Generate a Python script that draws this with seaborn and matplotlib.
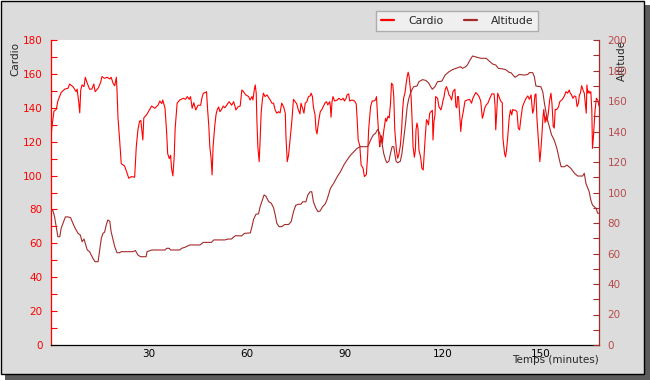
import matplotlib
matplotlib.use('Agg')
import matplotlib.pyplot as plt
import seaborn as sns
from matplotlib.patches import Rectangle
from matplotlib.ticker import FixedLocator, MultipleLocator

# Temps (minutes) / fréquence cardiaque
cardio_t = [0.0, 0.3, 0.9, 1.6, 2.1, 3.1, 4.2, 5.2, 5.7, 6.7,
            7.7, 8.0, 8.5, 8.8, 9.1, 9.5, 10.1, 10.5, 11.1, 11.8,
            12.5, 13.1, 13.5, 14.4, 15.2, 15.6, 16.4, 17.2, 18.0, 18.4,
            19.0, 19.5, 20.0, 20.2, 20.5, 21.0, 21.5, 22.5, 23.0, 23.8,
            24.6, 25.6, 26.1, 26.6, 27.1, 27.5, 28.1, 28.4, 29.3, 29.8,
            30.8, 31.8, 32.8, 33.3, 33.9, 34.2, 34.9, 35.4, 35.7, 36.2,
            36.6, 36.9, 37.3, 37.7, 38.0, 38.6, 39.4, 40.5, 41.2, 41.7,
            42.3, 42.7, 43.2, 43.7, 44.3, 45.0, 45.8, 46.1, 46.6, 47.3,
            47.6, 47.9, 48.3, 48.6, 49.0, 49.3, 49.6, 50.1, 50.5, 50.9,
            51.3, 51.7, 52.2, 52.7, 53.2, 53.9, 54.5, 55.3, 55.9, 56.6,
            57.2, 57.9, 58.4, 58.9, 59.6, 60.5, 60.9, 61.5, 61.8, 62.2,
            62.5, 62.8, 63.0, 63.3, 63.7, 64.0, 64.3, 64.7, 65.0, 65.5,
            66.1, 66.6, 67.1, 67.6, 68.1, 68.6, 69.1, 69.6, 70.1, 70.6,
            71.2, 71.7, 71.9, 72.3, 72.7, 73.2, 73.7, 74.2, 74.7, 75.2,
            75.7, 76.2, 76.5, 77.0, 77.4, 77.8, 78.3, 78.8, 79.3, 79.6,
            80.0, 80.3, 80.8, 81.1, 81.4, 81.9, 82.4, 82.9, 83.4, 83.9,
            84.3, 84.7, 85.3, 85.5, 85.7, 86.0, 86.3, 86.8, 87.6, 88.1,
            88.8, 89.4, 89.8, 90.3, 90.6, 91.1, 91.4, 92.1, 92.9, 93.4,
            93.7, 94.0, 94.5, 94.9, 95.5, 95.9, 96.5, 96.9, 97.2, 97.8,
            98.3, 98.8, 99.3, 99.6, 100.0, 100.3, 100.6, 100.8, 101.1, 101.4,
            101.8, 102.4, 102.7, 103.1, 103.5, 103.9, 104.2, 104.6, 104.9, 105.2,
            105.7, 106.1, 106.5, 106.9, 107.3, 107.6, 107.9, 108.3, 108.7, 109.0,
            109.3, 109.6, 109.8, 110.2, 110.5, 110.8, 111.2, 111.5, 111.7, 112.0,
            112.3, 112.6, 113.1, 113.5, 113.9, 114.2, 114.5, 114.9, 115.2, 115.5,
            115.9, 116.2, 116.7, 116.9, 117.2, 117.5, 117.7, 118.3, 118.7, 119.3,
            119.6, 120.0, 120.3, 120.6, 121.0, 121.4, 121.8, 122.2, 122.6, 123.0,
            123.6, 123.9, 124.2, 124.4, 124.7, 125.1, 125.4, 125.7, 126.1, 126.4,
            126.7, 127.4, 128.1, 128.7, 129.1, 129.6, 130.0, 130.5, 131.0, 131.5,
            132.0, 132.3, 132.7, 133.2, 133.7, 134.3, 134.9, 135.6, 135.9, 136.1,
            136.4, 136.7, 137.1, 137.6, 138.1, 138.3, 138.8, 139.1, 139.4, 139.8,
            140.2, 140.6, 141.0, 141.3, 141.6, 142.0, 142.6, 143.0, 143.4, 143.8,
            144.3, 144.9, 145.4, 145.9, 146.4, 146.9, 147.4, 147.7, 148.1, 148.4,
            148.7, 149.1, 149.4, 149.6, 149.9, 150.2, 150.5, 150.8, 151.2, 151.5,
            151.8, 152.2, 152.6, 153.0, 153.3, 153.7, 154.0, 154.3, 154.8, 155.3,
            155.7, 156.3, 156.7, 157.1, 157.6, 158.1, 158.6, 158.9, 159.3, 159.7,
            160.2, 160.6, 161.0, 161.4, 161.7, 162.0, 162.4, 162.8, 163.2, 163.5,
            163.8, 164.0, 164.3, 164.6, 164.9, 165.2, 165.5, 165.7, 166.0, 166.5,
            166.9, 167.3, 167.7]
cardio_bpm = [122, 129, 138, 139, 144, 149, 151, 151.5, 154, 152.5,
              149.5, 151, 143, 137, 150.5, 153.5, 152.5, 158, 154.5, 151,
              151, 154, 149.5, 151.5, 155, 158.4, 157.4, 158, 157, 158,
              154.5, 153, 158, 150.5, 134, 121, 107, 105.7, 103, 98.4,
              99.4, 99, 117, 127, 132, 132.5, 121, 134, 136, 137.7,
              141, 139.7, 141.7, 144, 142.5, 144.6, 139.7, 125, 113, 110,
              112, 104, 99.8, 111, 128, 142.7, 144.6, 145.6, 145, 146.6,
              145, 146.6, 139.7, 143, 138.7, 141.5, 141.5, 145, 148.6, 149,
              149.5, 139.7, 129, 117, 110, 100.4, 117, 129, 136, 139,
              140.5, 137.7, 139, 141, 140, 142, 143.6, 141.5, 143.6, 138.7,
              140.5, 141, 150.5, 149.5, 147.6, 146.6, 144.6, 146.6, 144.6, 150.5,
              153.5, 148.6, 133, 117, 108.2, 121, 136.8, 145, 148.6, 146.6,
              147.6, 146, 144.6, 142.7, 142.7, 138.7, 136.8, 137.7, 137, 142.7,
              140.5, 136.8, 123, 108.2, 112, 122, 132, 145, 143.6, 142.3,
              138.7, 136.4, 142.7, 139.7, 136.8, 142.7, 143.6, 146.6, 147, 148.6,
              146.6, 140.5, 135.8, 127, 124.6, 132, 137.7, 139, 141, 143,
              143.6, 141.7, 143.6, 140.5, 134.4, 143.6, 146.6, 144, 144.6, 145.6,
              144.6, 145.6, 144, 145.6, 147.6, 148.2, 144, 144.6, 144, 142.3,
              133, 121, 117.6, 106.3, 104.3, 99.4, 100.5, 112, 127, 140.7,
              144, 144, 144.6, 146.6, 133, 124, 117, 120, 123.5, 119,
              126, 133.8, 132, 135, 134, 142.7, 154.5, 153.5, 146.6, 127,
              115, 110.2, 113, 117.6, 127, 138.7, 145.6, 148.6, 154.5, 158.4,
              161, 158.4, 154.5, 146.6, 133, 117, 110.8, 115, 127, 131,
              128, 115, 111, 104.3, 103.3, 113, 122, 133, 132, 129.9,
              136.8, 137.5, 138.5, 121, 132, 135.5, 146.6, 145.6, 140.7, 138.7,
              140.7, 144.6, 146.6, 150.5, 152.5, 150.5, 147.6, 146.6, 144.6, 149.5,
              151, 140.7, 140, 146.6, 146.6, 134.8, 126, 133, 137, 140.7,
              144, 144.6, 145, 142.7, 145.6, 147.6, 149, 148, 146.6, 144,
              133.8, 135.7, 139.7, 141.7, 142.7, 145.6, 148.2, 148.2, 140.7, 127,
              137, 148.6, 146.6, 144, 143, 122, 113, 111, 115, 123.5,
              133.8, 138.7, 135.8, 139, 138.5, 138.7, 137.7, 128, 127, 133.8,
              140.7, 143.6, 145.6, 147, 145, 147.6, 136.8, 138.7, 147.6, 148.2,
              133.8, 123, 114, 108.2, 115, 123, 133, 139, 131.2, 135,
              132, 137, 144.6, 148.6, 142.7, 129, 128, 139, 139, 140.5,
              143.6, 144.6, 145.6, 147, 149.5, 148.6, 150.5, 148.6, 147.6, 145.6,
              147, 146.6, 140.7, 142.7, 147.6, 148.6, 153, 150.5, 148.6, 142.7,
              136.8, 153.5, 148.6, 150, 148.6, 149.5, 138.7, 116, 123, 138.7,
              145.6, 144.6, 141]

# Altitude (m)
alt_t = [0.0, 0.6, 1.1, 1.6, 2.1, 2.7, 3.1, 3.7, 4.4, 5.2,
         6.0, 6.7, 7.4, 8.3, 9.0, 9.5, 10.1, 10.5, 11.1, 11.8,
         12.3, 12.8, 13.5, 14.4, 14.9, 15.4, 15.9, 16.4, 16.9, 17.4,
         18.0, 18.4, 19.0, 19.5, 20.2, 21.0, 21.5, 23.5, 25.1, 25.8,
         26.6, 27.4, 29.1, 29.4, 30.8, 34.9, 35.4, 36.2, 36.6, 39.4,
         40.0, 41.0, 42.5, 45.6, 46.6, 49.1, 49.8, 53.2, 54.2, 55.3,
         55.7, 56.5, 58.3, 59.2, 61.0, 61.5, 62.0, 62.7, 63.5, 64.0,
         64.5, 65.2, 65.8, 66.6, 67.4, 68.1, 68.6, 69.1, 69.8, 70.6,
         71.5, 72.7, 73.5, 74.2, 74.9, 75.7, 76.5, 77.0, 78.0, 78.6,
         79.3, 79.8, 80.3, 81.0, 81.7, 82.4, 83.1, 83.9, 84.5, 85.5,
         86.5, 87.6, 88.6, 89.6, 90.6, 91.7, 92.7, 93.7, 94.7, 96.2,
         96.9, 97.2, 97.8, 98.6, 99.3, 100.0, 100.6, 101.3, 101.8, 102.4,
         102.8, 103.4, 103.9, 104.4, 104.9, 105.2, 105.6, 106.1, 106.9, 107.4,
         107.9, 108.5, 109.0, 109.5, 110.0, 110.5, 111.0, 112.0, 112.6, 113.7,
         114.7, 115.5, 116.2, 116.7, 117.5, 118.3, 119.6, 120.6, 121.8, 122.9,
         123.9, 125.4, 125.9, 126.9, 127.4, 128.1, 129.0, 129.8, 131.5, 133.2,
         134.0, 135.1, 136.1, 136.9, 138.3, 139.1, 140.2, 140.8, 142.0, 143.3,
         144.9, 145.9, 146.4, 147.4, 147.9, 148.4, 149.9, 150.5, 151.0, 151.8,
         152.5, 153.2, 154.0, 154.8, 155.6, 156.1, 157.1, 157.9, 159.1, 160.2,
         161.2, 162.7, 163.2, 163.7, 164.7, 165.2, 165.7, 166.8, 167.3, 167.7]
alt_m = [88.5, 88, 84, 77.6, 71, 71, 76.5, 80, 84, 84,
         83.5, 79.8, 76.5, 73.2, 72, 67.7, 69.5, 66.7, 62.3, 61.2,
         59, 56.9, 54.6, 54.6, 62.3, 70, 73.2, 74, 78.7, 82,
         81, 74.3, 68.8, 64.5, 60.5, 60.5, 61.2, 61.2, 61.2, 62,
         59, 57.9, 57.9, 61.2, 62.3, 62.3, 63.4, 63.4, 62.3, 62.3,
         63.4, 64.1, 65.6, 65.6, 67.3, 67.3, 68.9, 68.9, 69.5, 69.5,
         70.5, 71.7, 71.5, 73.2, 73.5, 77.6, 82.4, 85.7, 86, 90.7,
         93.9, 98.4, 97.5, 94, 93, 90, 85.5, 79.8, 77.6, 77.6,
         79, 79, 80.9, 87.4, 91.6, 92.3, 92.3, 93.9, 93.9, 98.4,
         100.5, 100.5, 94, 90, 87.4, 88, 90.7, 92.5, 95.5, 102.7,
         106, 110.4, 113.7, 118, 121.3, 124.6, 126.8, 129, 130.1, 130,
         130.1, 131.2, 134.4, 137.7, 138.8, 141.4, 138.8, 132.3, 125.7, 121.3,
         119.5, 120.5, 125.7, 130.1, 130, 125.7, 120.5, 119.5, 120.5, 125.7,
         134.4, 145.4, 156.3, 161.7, 165, 167.6, 169.4, 169.8, 172.7, 174,
         173.5, 172, 169.4, 167.7, 169.4, 172.7, 173, 177, 179.2, 180.6,
         181.4, 182.5, 181.4, 182.5, 183.6, 186.4, 189.5, 189, 188, 188,
         186.4, 184.3, 183.6, 181.4, 181, 180.6, 178.8, 178.5, 175.5, 177.4,
         177, 177.4, 178.6, 178.6, 176, 169.8, 169.4, 166, 158.5, 148.7,
         143.2, 137.7, 134.4, 129, 121.3, 116.9, 116.9, 118, 115.8, 112.6,
         110.8, 110.8, 112.6, 106, 100.5, 95, 91.8, 89.6, 86.4, 86.4]

if len(cardio_t) != len(cardio_bpm) or len(alt_t) != len(alt_m):
    raise ValueError(f"{len(cardio_t)} {len(cardio_bpm)} {len(alt_t)} {len(alt_m)}")

x_labels = [30, 60, 90, 120, 150]
x_minor = [15, 45, 75, 105, 135, 165]

RED = '#ff0000'
BROWN = '#a52a2a'

sns.set_style('white')
plt.rcParams['font.family'] = ['DejaVu Sans']

W, H = 650, 380
fig = plt.figure(figsize=(6.5, 3.8), dpi=100, facecolor='white')

# cadre gris avec ombre
fig.patches.append(Rectangle((5 / W, 0), 645 / W, 375 / H, transform=fig.transFigure,
                             facecolor='#5c5c5c', edgecolor='none', zorder=-3))
fig.patches.append(Rectangle((0.5 / W, 6 / H), 643.5 / W, 373.5 / H, transform=fig.transFigure,
                             facecolor='#dcdcdc', edgecolor='black', linewidth=1, zorder=-2))

ax = fig.add_axes([51 / W, 35 / H, 548 / W, 305 / H])
ax.set_facecolor('white')

sns.lineplot(x=cardio_t, y=cardio_bpm, ax=ax, color=RED, linewidth=0.8,
             estimator=None, sort=False, legend=False)
ax2 = ax.twinx()
sns.lineplot(x=alt_t, y=alt_m, ax=ax2, color=BROWN, linewidth=0.8,
             estimator=None, sort=False, legend=False)

ax.set_xlim(0, 167.7)
ax.set_ylim(0, 180)
ax2.set_ylim(0, 200)
ax.set_xlabel('')
ax.set_ylabel('')
ax2.set_ylabel('')

ax.xaxis.set_major_locator(FixedLocator(x_labels))
ax.xaxis.set_minor_locator(FixedLocator(x_minor))
ax.yaxis.set_major_locator(MultipleLocator(20))
ax.yaxis.set_minor_locator(MultipleLocator(10))
ax2.yaxis.set_major_locator(MultipleLocator(20))
ax2.yaxis.set_minor_locator(MultipleLocator(10))

ax.tick_params(axis='x', which='both', direction='in', length=4, width=0.8,
               color='black', labelcolor='black', labelsize=7.5, pad=3)
ax.tick_params(axis='y', which='both', direction='in', length=4, width=0.8,
               color=RED, labelcolor=RED, labelsize=7.5, pad=6)
ax2.tick_params(axis='y', which='both', direction='in', length=4, width=0.8,
                color=BROWN, labelcolor='#b84a4a', labelsize=7.5, pad=6)

for s in ['top', 'right']:
    ax.spines[s].set_visible(False)
ax.spines['left'].set_color(RED)
ax.spines['bottom'].set_color('black')
for s in ['top', 'left', 'bottom']:
    ax2.spines[s].set_visible(False)
ax2.spines['right'].set_color(BROWN)
for sp in list(ax.spines.values()) + list(ax2.spines.values()):
    sp.set_linewidth(0.9)

ax.text(-36 / 548, 1 - 2 / 305, 'Cardio', rotation=90, ha='center', va='top',
        transform=ax.transAxes, fontsize=7.5)
ax.text(1 + 23 / 548, 1.0, 'Altitude', rotation=90, ha='center', va='top',
        transform=ax.transAxes, fontsize=7.5)
ax.text(1.0, -10 / 305, 'Temps (minutes)', ha='right', va='top',
        transform=ax.transAxes, fontsize=7.5)

leg = fig.legend(handles=[ax.lines[0], ax2.lines[0]], labels=['Cardio', 'Altitude'],
                 ncol=2, loc='upper left', bbox_to_anchor=(376 / W, 1 - 11 / H),
                 borderaxespad=0, fontsize=7.8, frameon=True, fancybox=False,
                 edgecolor='#808080', facecolor='white', framealpha=0.55,
                 handlelength=1.2, columnspacing=1.9, borderpad=0.45,
                 handletextpad=1.3)
for h in leg.get_lines():
    h.set_linewidth(1.6)

fig.savefig('out.png', dpi=100)
